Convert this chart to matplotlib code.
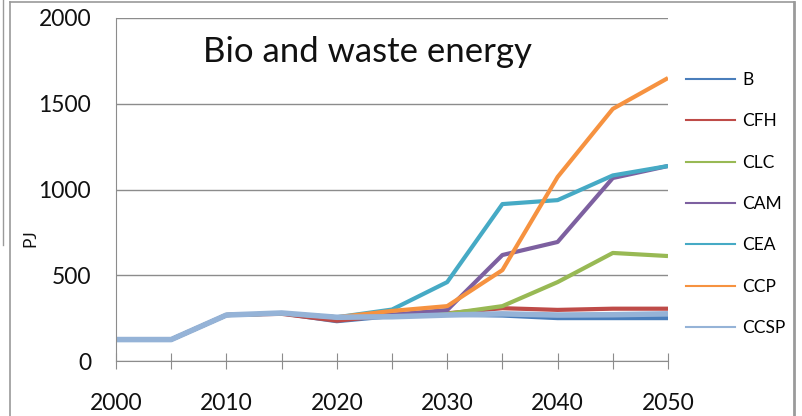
import matplotlib
matplotlib.use("Agg")
import matplotlib.pyplot as plt
from matplotlib.lines import Line2D

plt.rcParams['font.family'] = ['Lato', 'DejaVu Sans']

years = [2000, 2005, 2010, 2015, 2020, 2025, 2030, 2035, 2040, 2045, 2050]

b = [125, 125, 268, 278, 232, 262, 270, 265, 250, 250, 250]
cfh = [125, 125, 268, 275, 235, 268, 278, 308, 298, 305, 305]
clc = [125, 125, 268, 278, 255, 262, 275, 320, 460, 630, 612]
cam = [125, 125, 268, 278, 255, 270, 297, 618, 694, 1067, 1137]
cea = [125, 125, 268, 278, 255, 300, 460, 915, 938, 1082, 1137]
ccp = [125, 125, 268, 278, 255, 292, 320, 530, 1073, 1470, 1650]
ccsp = [125, 125, 268, 280, 255, 258, 268, 275, 268, 270, 275]

names = ['B', 'CFH', 'CLC', 'CAM', 'CEA', 'CCP', 'CCSP']
series = [b, cfh, clc, cam, cea, ccp, ccsp]
colors = ['#4A7EBB', '#BE4B48', '#98B954', '#7D60A0', '#46AAC5', '#F69240', '#95B3D7']
widths = [3.0, 3.0, 3.0, 3.0, 3.0, 3.0, 4.0]

fig = plt.figure(figsize=(8.02, 4.16), dpi=100)
ax = fig.add_axes([116 / 802, 1 - 361 / 416, (668 - 116) / 802, (361 - 18) / 416])

for vals, c, w in zip(series, colors, widths):
    ax.plot(years, vals, color=c, lw=w, solid_joinstyle='round', solid_capstyle='butt')

ax.set_xlim(2000, 2050)
ax.set_ylim(0, 2000)
ax.set_yticks([0, 500, 1000, 1500, 2000])
ax.set_xticks(range(2000, 2051, 5))
ax.set_xticklabels([str(y) if y % 10 == 0 else '' for y in range(2000, 2051, 5)])
ax.grid(axis='y', color='#8c8c8c', lw=1.0)
ax.set_axisbelow(True)
for s in ['top', 'right']:
    ax.spines[s].set_visible(False)
ax.spines['left'].set_color('#8c8c8c')
ax.spines['bottom'].set_color('#8c8c8c')
ax.tick_params(axis='y', length=0, pad=18, labelsize=16.5, labelcolor='#111111')
ax.tick_params(axis='x', direction='inout', length=12, color='#8c8c8c',
               pad=17, labelsize=16.5, labelcolor='#111111')

fig.text(30 / 802, 1 - 238 / 416, 'PJ', rotation=90, fontsize=12.5, color='#111111',
         ha='center', va='center')

ax.text(0.157, 0.9, 'Bio and waste energy', transform=ax.transAxes,
        fontsize=25, color='#111111', va='center', ha='left')

handles = [Line2D([], [], color=c, lw=1.5) for c in colors]
fig.legend(handles, names, loc='upper left', bbox_to_anchor=(686 / 802, 1 - 72 / 416),
           frameon=False, fontsize=12.5, handlelength=2.85, labelspacing=1.46,
           handletextpad=0.4, borderpad=0, borderaxespad=0)

# outer frame of the chart box
fig.add_artist(Line2D([10 / 802, 10 / 802], [0, 1 - 2 / 416], color='#9a9a9a', lw=1.2,
                      transform=fig.transFigure))
fig.add_artist(Line2D([10 / 802, 794 / 802], [1 - 2 / 416, 1 - 2 / 416], color='#9a9a9a',
                      lw=1.2, transform=fig.transFigure))
fig.add_artist(Line2D([794 / 802, 794 / 802], [0, 1 - 2 / 416], color='#9a9a9a', lw=2.0,
                      transform=fig.transFigure))
fig.add_artist(Line2D([3 / 802, 3 / 802], [1 - 245 / 416, 1], color='#9a9a9a', lw=1.0,
                      transform=fig.transFigure))

fig.savefig('out.png', dpi=100)
